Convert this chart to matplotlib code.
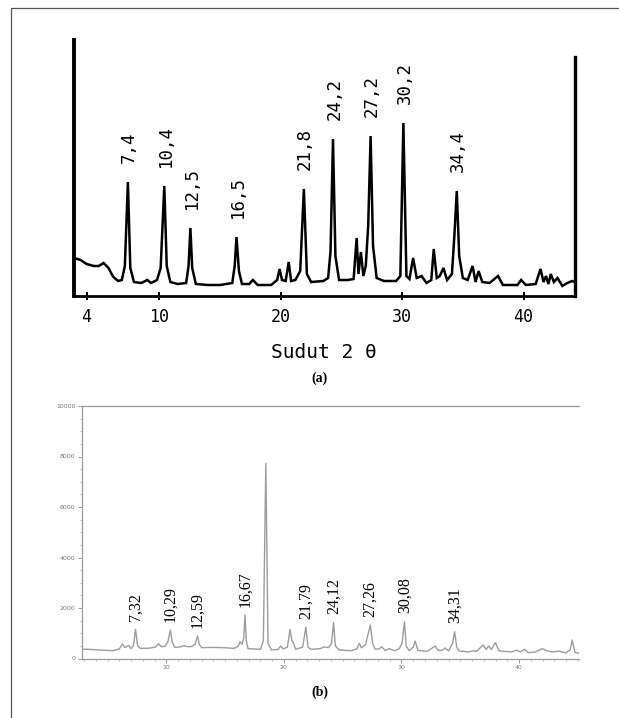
import matplotlib
matplotlib.use('Agg')
import matplotlib.pyplot as plt
from matplotlib.lines import Line2D

W, H = 619, 718

# (a) old diffractogram, intensity in arbitrary units (height above axis line)
a_two_theta = [3.0, 3.5, 4.0, 4.6, 5.0, 5.4, 5.8, 6.2, 6.6, 6.9,
               7.15, 7.4, 7.6, 7.9, 8.5, 9.0, 9.3, 9.8, 10.1, 10.4,
               10.6, 10.9, 11.5, 12.2, 12.4, 12.55, 12.7, 13.0, 14.0, 15.0,
               16.0, 16.2, 16.35, 16.55, 16.8, 17.4, 17.7, 18.1, 19.2, 19.7,
               19.9, 20.1, 20.4, 20.65, 20.85, 21.2, 21.6, 21.9, 22.15, 22.5,
               23.5, 23.9, 24.1, 24.3, 24.5, 24.8, 25.5, 26.0, 26.25, 26.4,
               26.6, 26.8, 27.0, 27.2, 27.4, 27.6, 27.9, 28.5, 29.5, 29.85,
               30.1, 30.35, 30.6, 30.9, 31.2, 31.6, 32.0, 32.4, 32.6, 32.85,
               33.1, 33.4, 33.7, 34.1, 34.3, 34.5, 34.7, 35.0, 35.4, 35.8,
               36.05, 36.3, 36.6, 37.2, 37.9, 38.3, 39.5, 39.8, 40.2, 41.0,
               41.4, 41.65, 41.85, 42.05, 42.25, 42.5, 42.8, 43.2, 43.6, 44.0,
               44.2]
a_intensity = [38, 36, 32, 30, 30, 33, 28, 19, 15, 16,
               30, 114, 28, 14, 13, 16, 13, 16, 28, 110,
               30, 14, 12, 13, 30, 68, 28, 12, 11, 11,
               13, 30, 59, 25, 12, 12, 16, 11, 11, 16,
               27, 16, 15, 34, 15, 16, 25, 107, 22, 14,
               15, 18, 45, 157, 40, 16, 16, 17, 58, 22,
               44, 20, 30, 70, 160, 50, 18, 15, 15, 20,
               173, 20, 17, 38, 18, 20, 13, 16, 47, 18,
               20, 28, 16, 22, 60, 105, 40, 18, 16, 30,
               14, 25, 14, 13, 20, 11, 11, 16, 11, 12,
               27, 14, 20, 12, 22, 14, 18, 10, 13, 15,
               14]
a_peaks = [7.4, 10.4, 12.55, 16.35, 21.9, 24.3, 27.4, 30.1, 34.5]
a_peak_labels = ['7,4', '10,4', '12,5', '16,5', '21,8', '24,2', '27,2', '30,2', '34,4']
a_ticks = [4, 10, 20, 30, 40]

# (b) new diffractogram, counts
b_two_theta = [2.9, 3.3, 4.5, 5.5, 6.0, 6.27, 6.45, 6.55, 6.78, 6.99,
               7.2, 7.38, 7.55, 7.78, 8.6, 9.1, 9.34, 9.55, 9.9, 10.15,
               10.34, 10.5, 10.7, 11.2, 11.48, 11.8, 12.1, 12.45, 12.65, 12.8,
               13.0, 14.0, 15.2, 15.75, 16.1, 16.26, 16.43, 16.58, 16.69, 16.8,
               16.95, 18.0, 18.25, 18.46, 18.65, 18.94, 19.5, 19.73, 19.95, 20.3,
               20.52, 20.68, 20.78, 21.0, 21.6, 21.86, 22.05, 22.3, 23.1, 23.4,
               23.8, 24.05, 24.22, 24.38, 24.5, 24.7, 25.7, 26.2, 26.41, 26.6,
               26.75, 26.95, 27.35, 27.55, 27.75, 28.1, 28.32, 28.6, 28.95, 29.1,
               29.45, 29.8, 30.05, 30.25, 30.4, 30.65, 31.0, 31.16, 31.4, 32.0,
               32.25, 32.87, 33.1, 33.45, 33.73, 34.0, 34.35, 34.52, 34.7, 34.9,
               35.66, 36.1, 36.4, 36.94, 37.2, 37.42, 37.65, 37.99, 38.3, 39.35,
               39.8, 40.1, 40.47, 40.8, 41.4, 41.97, 42.4, 42.8, 43.4, 43.98,
               44.35, 44.53, 44.75, 45.1]
b_counts = [370, 364, 330, 310, 380, 574, 440, 450, 521, 390,
            520, 1155, 520, 400, 410, 460, 587, 470, 480, 700,
            1130, 650, 440, 460, 508, 470, 470, 560, 891, 560,
            430, 440, 420, 400, 480, 667, 560, 800, 1723, 700,
            390, 364, 700, 7730, 600, 340, 360, 495, 380, 450,
            1155, 700, 667, 364, 450, 1234, 450, 364, 390, 460,
            430, 600, 1420, 500, 444, 337, 310, 380, 600, 420,
            480, 560, 1327, 600, 370, 380, 468, 320, 390, 360,
            310, 390, 600, 1458, 500, 310, 450, 693, 320, 290,
            300, 495, 330, 320, 416, 300, 600, 1063, 450, 300,
            260, 300, 290, 535, 360, 495, 360, 627, 300, 260,
            330, 260, 364, 230, 260, 390, 300, 260, 290, 220,
            350, 733, 250, 200]
b_peaks = [7.38, 10.34, 12.65, 16.69, 21.86, 24.22, 27.35, 30.25, 34.52]
b_peak_labels = ['7,32', '10,29', '12,59', '16,67', '21,79', '24,12', '27,26', '30,08', '34,31']
b_yticks = [0, 2000, 4000, 6000, 8000, 10000]
b_xticks = [10, 20, 30, 40]


def px_box(left, top, right, bottom):
    # pixel box -> figure fraction rect
    return [left / W, 1 - bottom / H, (right - left) / W, (bottom - top) / H]


fig = plt.figure(figsize=(W / 100, H / 100), dpi=100)

# page frame (only left and top edges fall inside the image)
fig.add_artist(Line2D([11 / W, 11 / W, 1], [0, 1 - 8 / H, 1 - 8 / H],
                      transform=fig.transFigure, color='#555555', lw=0.9))

# ---- panel (a)
mono = 'DejaVu Sans Mono'
ax = fig.add_axes(px_box(74, 40, 574.5, 296))
ax.plot(a_two_theta, a_intensity, color='black', lw=1.8, solid_joinstyle='miter')
ax.set_xlim(2.96, 44.2)
ax.set_ylim(0, 256)
ax.spines['top'].set_visible(False)
ax.spines['left'].set_linewidth(2.8)
ax.spines['right'].set_linewidth(2.4)
ax.spines['right'].set_bounds(0, 239)
ax.spines['bottom'].set_linewidth(2.0)
ax.set_yticks([])
ax.set_xticks(a_ticks)
ax.set_xticklabels([str(t) for t in a_ticks], family=mono, fontsize=12)
ax.tick_params(axis='x', direction='inout', length=6, width=1.4, pad=6)
ax.set_xlabel('Sudut 2 θ', family=mono, fontsize=14, labelpad=12)
ax.patch.set_alpha(0)

for pos, lab in zip(a_peaks, a_peak_labels):
    h = a_intensity[a_two_theta.index(pos)]
    ax.annotate(lab, (pos, h), xytext=(1, 14), textcoords='offset points',
                rotation=90, ha='center', va='bottom', family=mono, fontsize=12.5)

fig.text(320 / W, 1 - 378 / H, '(a)', ha='center', va='center',
         family='Liberation Serif', fontweight='bold', fontsize=10)

# ---- panel (b)
gray = '#9a9a9a'
bx = fig.add_axes(px_box(82.3, 406, 579, 658.5))
bx.plot(b_two_theta, b_counts, color='#9c9c9c', lw=1.0)
bx.set_xlim(2.85, 45.1)
bx.set_ylim(0, 10000)
bx.spines['right'].set_visible(False)
for s in ['left', 'bottom', 'top']:
    bx.spines[s].set_color(gray)
    bx.spines[s].set_linewidth(0.9)
bx.set_yticks(b_yticks)
bx.set_yticklabels([str(t) for t in b_yticks], fontsize=4.5, color='#777777')
bx.set_yticks(range(0, 10001, 500), minor=True)
bx.set_xticks(b_xticks)
bx.set_xticklabels([str(t) for t in b_xticks], fontsize=4.5, color='#777777')
bx.set_xticks(range(3, 46), minor=True)
bx.tick_params(axis='both', which='major', length=3, width=0.7, color=gray, pad=2)
bx.tick_params(axis='both', which='minor', length=1.5, width=0.5, color=gray)

for pos, lab in zip(b_peaks, b_peak_labels):
    h = b_counts[b_two_theta.index(pos)]
    bx.annotate(lab, (pos, h), xytext=(0, 6), textcoords='offset points',
                rotation=90, ha='center', va='bottom',
                family='Liberation Serif', fontsize=11.5)

fig.text(320 / W, 1 - 692 / H, '(b)', ha='center', va='center',
         family='Liberation Serif', fontweight='bold', fontsize=10)

fig.savefig('out.png', dpi=100)
